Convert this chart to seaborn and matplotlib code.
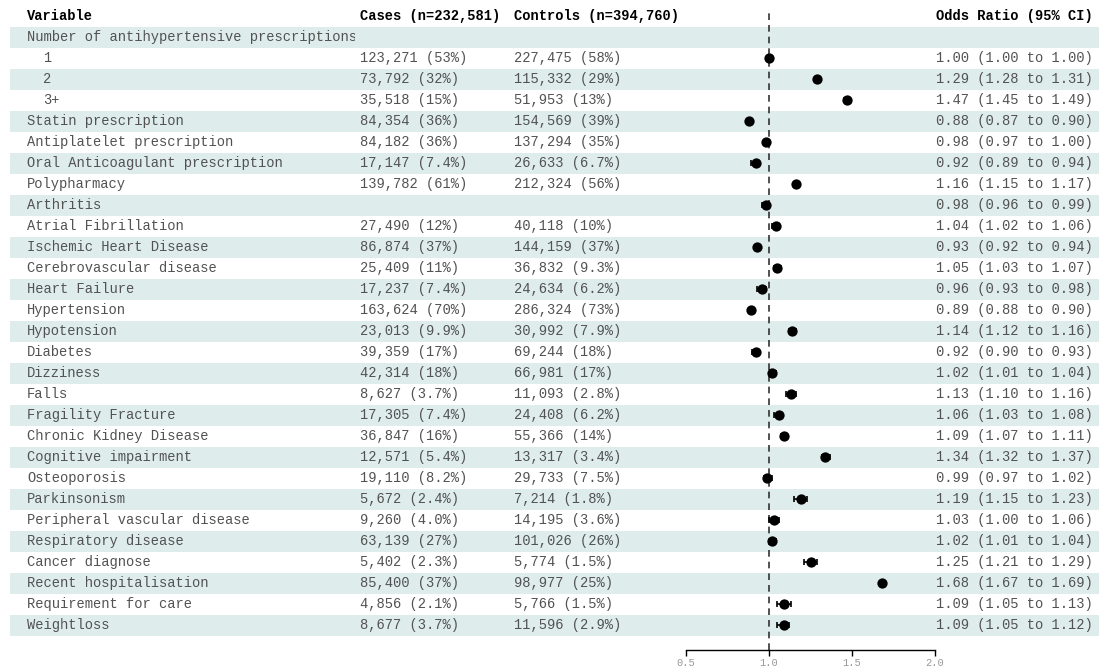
import numpy as np
import pandas as pd
import matplotlib
matplotlib.use("Agg")
import matplotlib.pyplot as plt
from matplotlib.patches import Rectangle
import seaborn as sns

sns.set_theme(style="white")
plt.rcParams["font.family"] = ["Liberation Mono", "DejaVu Sans Mono"]

# ---- data -------------------------------------------------------------
variables = [
    "Number of antihypertensive prescriptions", "1", "2", "3+",
    "Statin prescription", "Antiplatelet prescription",
    "Oral Anticoagulant prescription", "Polypharmacy", "Arthritis",
    "Atrial Fibrillation", "Ischemic Heart Disease", "Cerebrovascular disease",
    "Heart Failure", "Hypertension", "Hypotension", "Diabetes", "Dizziness",
    "Falls", "Fragility Fracture", "Chronic Kidney Disease",
    "Cognitive impairment", "Osteoporosis", "Parkinsonism",
    "Peripheral vascular disease", "Respiratory disease", "Cancer diagnose",
    "Recent hospitalisation", "Requirement for care", "Weightloss",
]
indented = ["1", "2", "3+"]
cases = [
    "", "123,271 (53%)", "73,792 (32%)", "35,518 (15%)", "84,354 (36%)",
    "84,182 (36%)", "17,147 (7.4%)", "139,782 (61%)", "", "27,490 (12%)",
    "86,874 (37%)", "25,409 (11%)", "17,237 (7.4%)", "163,624 (70%)",
    "23,013 (9.9%)", "39,359 (17%)", "42,314 (18%)", "8,627 (3.7%)",
    "17,305 (7.4%)", "36,847 (16%)", "12,571 (5.4%)", "19,110 (8.2%)",
    "5,672 (2.4%)", "9,260 (4.0%)", "63,139 (27%)", "5,402 (2.3%)",
    "85,400 (37%)", "4,856 (2.1%)", "8,677 (3.7%)",
]
controls = [
    "", "227,475 (58%)", "115,332 (29%)", "51,953 (13%)", "154,569 (39%)",
    "137,294 (35%)", "26,633 (6.7%)", "212,324 (56%)", "", "40,118 (10%)",
    "144,159 (37%)", "36,832 (9.3%)", "24,634 (6.2%)", "286,324 (73%)",
    "30,992 (7.9%)", "69,244 (18%)", "66,981 (17%)", "11,093 (2.8%)",
    "24,408 (6.2%)", "55,366 (14%)", "13,317 (3.4%)", "29,733 (7.5%)",
    "7,214 (1.8%)", "14,195 (3.6%)", "101,026 (26%)", "5,774 (1.5%)",
    "98,977 (25%)", "5,766 (1.5%)", "11,596 (2.9%)",
]
odds_ratio = [np.nan, 1.00, 1.29, 1.47, 0.88, 0.98, 0.92, 1.16, 0.98, 1.04,
              0.93, 1.05, 0.96, 0.89, 1.14, 0.92, 1.02, 1.13, 1.06, 1.09,
              1.34, 0.99, 1.19, 1.03, 1.02, 1.25, 1.68, 1.09, 1.09]
ci_low = [np.nan, 1.00, 1.28, 1.45, 0.87, 0.97, 0.89, 1.15, 0.96, 1.02,
          0.92, 1.03, 0.93, 0.88, 1.12, 0.90, 1.01, 1.10, 1.03, 1.07,
          1.32, 0.97, 1.15, 1.00, 1.01, 1.21, 1.67, 1.05, 1.05]
ci_high = [np.nan, 1.00, 1.31, 1.49, 0.90, 1.00, 0.94, 1.17, 0.99, 1.06,
           0.94, 1.07, 0.98, 0.90, 1.16, 0.93, 1.04, 1.16, 1.08, 1.11,
           1.37, 1.02, 1.23, 1.06, 1.04, 1.29, 1.69, 1.13, 1.12]
x_ticks = [0.5, 1.0, 1.5, 2.0]

df = pd.DataFrame({
    "variable": variables, "cases": cases, "controls": controls,
    "or": odds_ratio, "lo": ci_low, "hi": ci_high,
})
df["row"] = np.arange(len(df))

# ---- layout -----------------------------------------------------------
W, H = 1099, 668
fig = plt.figure(figsize=(W / 100, H / 100), dpi=100)

row0_px, pitch = 37.0, 21.0      # centre of first row and row spacing
top_px, bottom_px = 10.0, 650.0  # vertical extent of the forest panel
y_top = (top_px - row0_px) / pitch
y_bottom = (bottom_px - row0_px) / pitch

def fy(px):
    return 1 - px / H

# table layer spanning the whole figure
tab = fig.add_axes([0, fy(bottom_px), 1, (bottom_px - top_px) / H])
tab.set_xlim(0, W)
tab.set_ylim(y_bottom, y_top)
tab.axis("off")

# forest panel: 0.5 -> 686 px, 2.0 -> 935 px
fx0, fx1 = 686, 935
ax = fig.add_axes([fx0 / W, fy(bottom_px), (fx1 - fx0) / W,
                   (bottom_px - top_px) / H], sharey=tab)
ax.patch.set_alpha(0)

shade = "#deecec"
txt = "#525252"
fs = 9.95

for r in df["row"]:
    if r % 2 == 0:
        tab.add_patch(Rectangle((10, r - 0.5), W - 10, 1.0, color=shade,
                                lw=0, zorder=0))

# header
hdr = dict(fontsize=fs, fontweight="bold", color="black", va="center")
tab.text(27, -1, "Variable", ha="left", **hdr)
tab.text(360, -1, "Cases (n=232,581)", ha="left", **hdr)
tab.text(514, -1, "Controls (n=394,760)", ha="left", **hdr)
tab.text(1093, -1, "Odds Ratio (95% CI)", ha="right", **hdr)

# the variable column is cut off where the cases column begins
clip_rect = Rectangle((0, -2), 355, 40, transform=tab.transData)
for _, d in df.iterrows():
    x_var = 43 if d["variable"] in indented else 27
    t = tab.text(x_var, d["row"], d["variable"], ha="left", va="center",
                 fontsize=fs, color=txt, clip_on=True)
    t.set_clip_path(clip_rect)
    if d["cases"]:
        tab.text(360, d["row"], d["cases"], ha="left", va="center",
                 fontsize=fs, color=txt)
    if d["controls"]:
        tab.text(514, d["row"], d["controls"], ha="left", va="center",
                 fontsize=fs, color=txt)
    if not np.isnan(d["or"]):
        tab.text(1093, d["row"],
                 f"{d['or']:.2f} ({d['lo']:.2f} to {d['hi']:.2f})",
                 ha="right", va="center", fontsize=fs, color=txt)

# forest marks
est = df.dropna(subset=["or"])
ax.axvline(1.0, color="#333333", lw=1.2, ls=(0, (4, 3)), zorder=1)
ax.errorbar(est["or"], est["row"],
            xerr=[est["or"] - est["lo"], est["hi"] - est["or"]],
            fmt="none", ecolor="black", elinewidth=1.2, capsize=2.5,
            capthick=1.2, zorder=2)
sns.scatterplot(data=est, x="or", y="row", ax=ax, color="black", s=55,
                edgecolor="black", linewidth=0, zorder=3, legend=False)

ax.set_xlim(0.5, 2.0)
ax.set_ylim(y_bottom, y_top)
ax.set_xticks(x_ticks)
ax.set_xticklabels([f"{v:.1f}" for v in x_ticks])
ax.tick_params(axis="x", direction="out", length=4, width=1, color="black",
               labelsize=7.5, labelcolor="#999999", pad=2, bottom=True)
ax.tick_params(axis="y", left=False, labelleft=False)
ax.set_xlabel("")
ax.set_ylabel("")
for s in ["top", "left", "right"]:
    ax.spines[s].set_visible(False)
ax.spines["bottom"].set_color("black")
ax.spines["bottom"].set_linewidth(1)

fig.savefig("out.png", dpi=100)
